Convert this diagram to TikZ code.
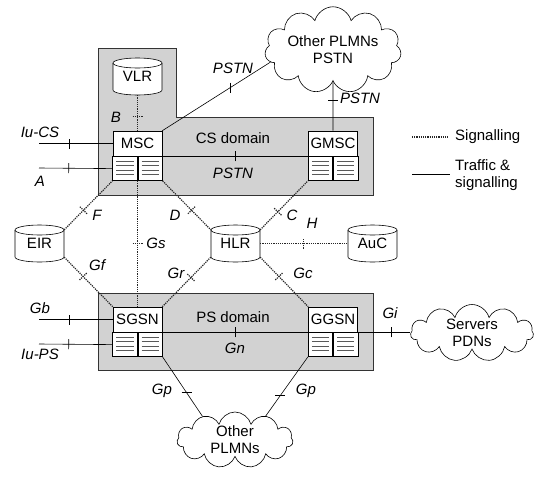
\documentclass[tikz,border=0pt]{standalone}
\usepackage{fontspec}
\setmainfont{Liberation Sans}
\usetikzlibrary{shapes.symbols,calc,decorations.markings}
\newcommand\fs{\fontsize{15}{17.5}\selectfont}
\begin{document}
\begin{tikzpicture}[x=1pt,y=-1pt,
  every node/.style={font=\fs},
  lab/.style={font=\fs\itshape, inner sep=0},
  sig/.style={line width=1.2pt, dash pattern=on 1.2pt off 1pt, black!85},
  traf/.style={line width=0.6pt},
  tk/.style={postaction={decorate, decoration={markings, mark=at position #1 with {\draw (0pt,-5pt) -- (0pt,5pt);}}}},
  domainbox/.style={fill=gray!35, draw=black!80, line width=0.6pt},
  swbox/.style={draw, fill=white, minimum width=49pt, minimum height=25pt, inner sep=0, line width=0.6pt},
  cellbox/.style={draw, fill=white, minimum width=24.5pt, minimum height=24pt, inner sep=0, line width=0.6pt},
  dbbox/.style={minimum width=49pt, minimum height=37pt, inner sep=0},
  cloudnode/.style={cloud, draw, fill=white, cloud puffs=11, aspect=2.1, inner sep=0, align=center, line width=0.6pt, font=\fontsize{15}{17}\selectfont},
  ]
\useasboundingbox (0,0) rectangle (544,480);

% domains
\draw[domainbox] (98,48) -- (176,48) -- (176,117) -- (373,117) -- (373,195) -- (98,195) -- cycle;
\draw[domainbox] (98,293) rectangle (373,370);

\newcommand\netswitch[4]{%
  \node[swbox] (#1) at (#2,#3) {#4};
  \node[cellbox, anchor=north east] (#1l) at (#1.south) {};
  \node[cellbox, anchor=north west] (#1r) at (#1.south) {};
  \foreach \n in {#1l,#1r}{\foreach \yy in {4.5,9,13.5,18}{
    \draw[black!65, line width=0.6pt] ($(\n.north west)+(4,\yy)$) -- ($(\n.north east)+(-4,\yy)$);}}
}
\newcommand\dbnode[4]{%
  \coordinate (#1c) at (#2,#3);
  \draw[fill=white, line width=0.6pt] ($(#1c)+(-24.5,-13.5)$) -- ($(#1c)+(-24.5,13.5)$)
     arc[start angle=180,end angle=360,x radius=24.5pt,y radius=5pt]
     -- ($(#1c)+(24.5,-13.5)$)
     arc[start angle=0,end angle=180,x radius=24.5pt,y radius=5pt] -- cycle;
  \draw[line width=0.6pt] ($(#1c)+(-24.5,-13.5)$) arc[start angle=180,end angle=360,x radius=24.5pt,y radius=5pt];
  \node[dbbox] (#1) at (#1c) {\raisebox{-4pt}{#4}};
}

% databases
\dbnode{vlr}{137.5}{76.5}{VLR}
\dbnode{eir}{39.5}{243.5}{EIR}
\dbnode{hlr}{235.5}{243.5}{HLR}
\dbnode{auc}{372.5}{243.5}{AuC}

% clouds
\node[cloudnode, minimum width=117pt, minimum height=56pt] (plmn1) at (333,50) {Other PLMNs\\PSTN};
\node[cloudnode, minimum width=123pt, minimum height=57pt] (servers) at (472,333) {Servers\\PDNs};
\node[cloudnode, minimum width=116pt, minimum height=55pt] (plmn2) at (235,440) {Other\\PLMNs};

% free ends
\coordinate (iucs) at (39,143.5);
\coordinate (aend) at (39,168);
\coordinate (gbend) at (39,319.5);
\coordinate (iupsend) at (39,344);

% switches
\netswitch{msc}{137.5}{143.5}{MSC}
\netswitch{gmsc}{333}{143.5}{GMSC}
\netswitch{sgsn}{137.5}{319.5}{SGSN}
\netswitch{ggsn}{333}{319.5}{GGSN}

% CS connectors
\draw[sig, tk=0.6] (vlr.south) -- (msc.north);
\draw[traf, tk=0.405] (iucs) -- (msc.west);
\draw[traf, tk=0.405] (aend) -- (mscl.west);
\draw[traf] (msc.north east) -- coordinate[pos=0.627] (tpstn) (plmn1.191);
\draw[traf] ($(tpstn)+(0,-5)$) -- ($(tpstn)+(0,5)$);
\draw[traf, tk=0.5] (msc.south east) -- (gmsc.south west);
\draw[traf, tk=0.38] (plmn1.south) -- (gmsc.north);

% signalling
\draw[sig, tk=0.4] ($(eir.north east)+(0,5)$) -- (mscl.south west);
\draw[sig, tk=0.6] (mscr.south east) -- ($(hlr.north west)+(0,5)$);
\draw[sig, tk=0.5] (mscl.south east) -- (sgsn.north);
\draw[sig, tk=0.37] ($(hlr.north east)+(0,5)$) -- (gmscl.south west);
\draw[sig, tk=0.49] (hlr.east) -- (auc.west);
\draw[sig, tk=0.39] ($(eir.south east)+(0,-5)$) -- (sgsn.north west);
\draw[sig, tk=0.41] ($(hlr.south west)+(0,-5)$) -- (sgsn.north east);
\draw[sig, tk=0.39] ($(hlr.south east)+(0,-5)$) -- (ggsn.north west);

% PS connectors
\draw[traf, tk=0.405] (gbend) -- (sgsn.west);
\draw[traf, tk=0.405] (iupsend) -- (sgsnl.west);
\draw[traf, tk=0.5] (sgsn.south east) -- (ggsn.south west);
\draw[traf, tk=0.64] (ggsn.south east) -- (ggsn.south east -| servers.west);
\draw[traf] (sgsnr.south east) -- coordinate[pos=0.6] (tgp1) (plmn2.144);
\draw[traf] ($(tgp1)+(-5,0)$) -- ($(tgp1)+(5,0)$);
\draw[traf] (ggsnl.south west) -- coordinate[pos=0.65] (tgp2) (plmn2.38);
\draw[traf] ($(tgp2)+(-5,0)$) -- ($(tgp2)+(5,0)$);

% labels
\node[lab] (liucs) at (40,132) {Iu-CS};
\node[lab] (la) at (40,181) {A};
\node[lab] (lb) at (116,117) {B};
\node[lab] (lpstn1) at (233,68) {PSTN};
\node (lcs) at (233,138) {CS domain};
\node[lab] (lpstn2) at (233,173) {PSTN};
\node[lab] (lpstn3) at (360,98) {PSTN};
\node[lab] (lf) at (97,215) {F};
\node[lab] (ld) at (175,215) {D};
\node[lab] (lgs) at (156,243) {Gs};
\node[lab] (lc) at (292,215) {C};
\node[lab] (lh) at (312,223) {H};
\node[lab] (lgf) at (97,265) {Gf};
\node[lab] (lgr) at (176,273) {Gr};
\node[lab] (lgc) at (303,273) {Gc};
\node[lab] (lgb) at (40,308) {Gb};
\node[lab] (liups) at (40,354) {Iu-PS};
\node (lps) at (233,317) {PS domain};
\node[lab] (lgn) at (235,348) {Gn};
\node[lab] (lgi) at (390,313) {Gi};
\node[lab] (lgp1) at (162,391) {Gp};
\node[lab] (lgp2) at (306,391) {Gp};

% legend
\node[anchor=west, inner sep=0] (legsig) at (455,137) {Signalling};
\node[anchor=west, inner sep=0, align=left] (legtraf) at (455,175) {Traffic \&\\signalling};
\coordinate (lg1) at (412,137);
\coordinate (lg2) at (412,174);
\draw[sig] (lg1) -- ($(legsig.west)+(-7,0)$);
\draw[traf] (lg2) -- ($(lg2 -| legtraf.west)+(-5,0)$);
\end{tikzpicture}
\end{document}
